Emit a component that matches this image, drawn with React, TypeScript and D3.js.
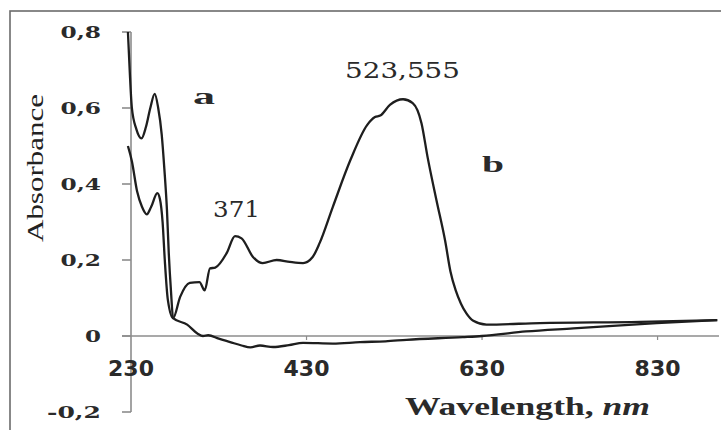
import React, { useEffect, useRef } from 'react';
import * as d3 from 'd3';

// spectrum a (nm, absorbance)
const wavelengthA = [226.5, 228.5, 231, 236, 242, 247, 252, 257, 261, 265, 268, 271, 273, 275.5, 278, 294, 306, 312, 318, 330, 343, 356, 366, 377, 392, 410, 426, 460, 491, 520, 544, 608, 630, 680, 734, 829, 898];
const absA = [0.8, 0.7, 0.6, 0.545, 0.52, 0.55, 0.6, 0.637, 0.6, 0.53, 0.44, 0.33, 0.22, 0.12, 0.047, 0.03, 0.006, 0.0, 0.002, -0.007, -0.016, -0.025, -0.03, -0.025, -0.029, -0.024, -0.018, -0.02, -0.016, -0.014, -0.01, -0.003, 0.0, 0.012, 0.02, 0.034, 0.042];

// spectrum b
const wavelengthB = [226.5, 231, 237, 242.5, 248, 253, 260, 263, 266, 268.5, 272, 278, 286, 297, 308, 314, 320, 326, 339, 348.5, 356, 369, 380, 396, 411, 426, 437, 445, 460, 480, 499, 508, 514, 525, 540, 551, 561, 568, 578, 588, 594, 600, 606, 612, 620, 635, 696, 810, 898];
const absB = [0.5, 0.46, 0.38, 0.34, 0.32, 0.34, 0.376, 0.36, 0.3, 0.2, 0.095, 0.047, 0.103, 0.14, 0.142, 0.12, 0.178, 0.18, 0.218, 0.263, 0.257, 0.208, 0.192, 0.2, 0.195, 0.192, 0.208, 0.245, 0.34, 0.463, 0.555, 0.576, 0.58, 0.608, 0.623, 0.613, 0.56, 0.47, 0.358, 0.25, 0.17, 0.12, 0.085, 0.06, 0.04, 0.03, 0.034, 0.037, 0.042];

const xTicks = [230, 430, 630, 830];
const yTicks = [-0.2, 0, 0.2, 0.4, 0.6, 0.8];
const yTickLabels = ['-0,2', '0', '0,2', '0,4', '0,6', '0,8'];

function App() {
  const ref = useRef<SVGSVGElement>(null);

  useEffect(() => {
    const svg = d3.select(ref.current);
    svg.selectAll('*').remove();

    const x = d3.scaleLinear().domain([230, 900]).range([131, 719]);
    const y = d3.scaleLinear().domain([-0.2, 0.8]).range([412, 32]);

    // frame (only left and top edges are inside the picture)
    svg.append('rect')
      .attr('x', 10).attr('y', 11)
      .attr('width', 760).attr('height', 460)
      .attr('fill', 'none').attr('stroke', '#6b6b6b').attr('stroke-width', 1.6);

    const axisColor = '#8c8c8c';

    // y axis
    svg.append('line')
      .attr('x1', x(230)).attr('x2', x(230))
      .attr('y1', y(0.8)).attr('y2', y(-0.2))
      .attr('stroke', axisColor).attr('stroke-width', 1.6);
    svg.selectAll('.ytick')
      .data(yTicks)
      .enter()
      .append('line')
      .attr('x1', x(230) - 9).attr('x2', x(230))
      .attr('y1', d => y(d)).attr('y2', d => y(d))
      .attr('stroke', axisColor).attr('stroke-width', 1.6);
    svg.selectAll('.ylab')
      .data(yTicks)
      .enter()
      .append('text')
      .attr('x', 101)
      .attr('y', d => y(d) + 6)
      .attr('text-anchor', 'end')
      .attr('font-family', 'DejaVu Serif')
      .attr('font-weight', 'bold')
      .attr('font-size', 17)
      .attr('fill', '#2a2a2a')
      .attr('textLength', (d, i) => (yTickLabels[i].length === 1 ? 16 : yTickLabels[i].length * 13.5))
      .attr('lengthAdjust', 'spacingAndGlyphs')
      .text((d, i) => yTickLabels[i]);

    // x axis at zero
    svg.append('line')
      .attr('x1', x(230) - 9).attr('x2', 719)
      .attr('y1', y(0)).attr('y2', y(0))
      .attr('stroke', axisColor).attr('stroke-width', 1.6);
    svg.selectAll('.xtick')
      .data(xTicks.slice(1))
      .enter()
      .append('line')
      .attr('x1', d => x(d)).attr('x2', d => x(d))
      .attr('y1', y(0)).attr('y2', y(0) + 4)
      .attr('stroke', axisColor).attr('stroke-width', 1.2);
    svg.selectAll('.xlab')
      .data(xTicks)
      .enter()
      .append('text')
      .attr('x', d => x(d))
      .attr('y', 376)
      .attr('text-anchor', 'middle')
      .attr('font-family', 'DejaVu Sans')
      .attr('font-weight', 'bold')
      .attr('font-size', 22)
      .attr('fill', '#2a2a2a')
      .text(d => d);

    // axis titles
    const xt = svg.append('text')
      .attr('x', 405).attr('y', 415)
      .attr('font-family', 'Liberation Serif')
      .attr('font-weight', 'bold')
      .attr('font-size', 25)
      .attr('fill', '#2a2a2a')
      .attr('textLength', 245)
      .attr('lengthAdjust', 'spacingAndGlyphs');
    xt.append('tspan').text('Wavelength, ');
    xt.append('tspan').attr('font-style', 'italic').text('nm');

    svg.append('text')
      .attr('transform', 'translate(43,168) rotate(-90)')
      .attr('text-anchor', 'middle')
      .attr('font-family', 'Liberation Serif')
      .attr('font-size', 24)
      .attr('fill', '#222')
      .attr('textLength', 148)
      .attr('lengthAdjust', 'spacingAndGlyphs')
      .text('Absorbance');

    // spectra
    const line = d3.line<[number, number]>()
      .x(d => x(d[0]))
      .y(d => y(d[1]))
      .curve(d3.curveMonotoneX);
    const seriesA = wavelengthA.map((w, i) => [w, absA[i]] as [number, number]);
    const seriesB = wavelengthB.map((w, i) => [w, absB[i]] as [number, number]);
    [seriesA, seriesB].forEach(s => {
      svg.append('path')
        .attr('d', line(s))
        .attr('fill', 'none')
        .attr('stroke', '#1e1e1e')
        .attr('stroke-width', 2.3)
        .attr('stroke-linejoin', 'round');
    });

    // annotations
    const notes = [
      { t: 'a', x: 193, y: 104, w: 22, bold: true, size: 24 },
      { t: 'b', x: 482, y: 172, w: 22, bold: true, size: 24 },
      { t: '371', x: 213, y: 217, w: 47, bold: false, size: 22 },
      { t: '523,555', x: 345, y: 78, w: 115, bold: false, size: 22 },
    ];
    notes.forEach(n => {
      svg.append('text')
        .attr('x', n.x).attr('y', n.y)
        .attr('font-family', n.bold ? 'Liberation Serif' : 'DejaVu Serif')
        .attr('font-weight', n.bold ? 'bold' : 'normal')
        .attr('font-size', n.size)
        .attr('fill', '#2a2a2a')
        .attr('textLength', n.w)
        .attr('lengthAdjust', 'spacingAndGlyphs')
        .text(n.t);
    });
  }, []);

  return (
    <svg ref={ref} width={721} height={430}
      style={{ position: 'absolute', left: 0, top: 0, background: '#fff' }} />
  );
}

export default App;
